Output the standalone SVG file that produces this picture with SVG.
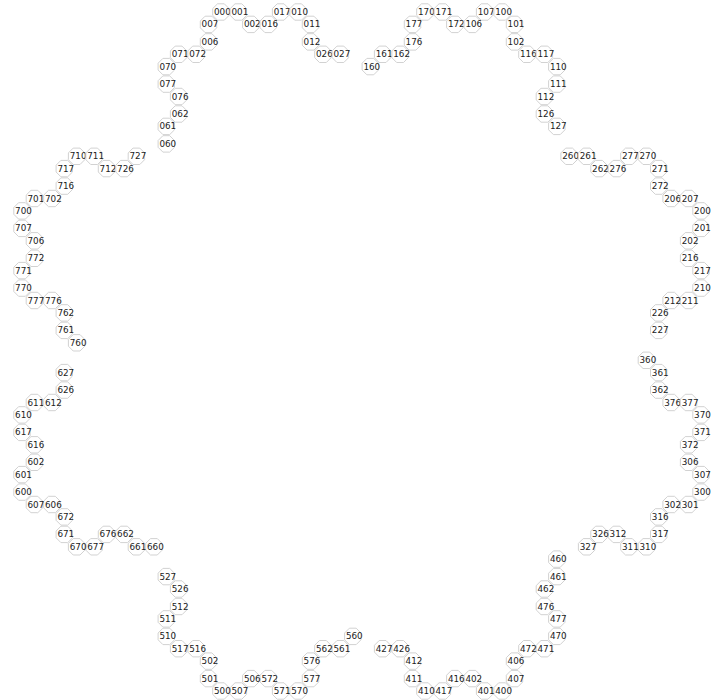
<svg xmlns="http://www.w3.org/2000/svg" xmlns:xlink="http://www.w3.org/1999/xlink" width="723" height="700" viewBox="0 0 723 700">
<style>
.n use{fill:#fff;stroke:#d2d2d2;stroke-width:1}
.n text{font-family:"DejaVu Sans",sans-serif;font-size:8.8px;fill:#222;text-anchor:middle}
</style>
<defs>
<polygon id="o" points="8.2,3.4 3.4,8.2 -3.4,8.2 -8.2,3.4 -8.2,-3.4 -3.4,-8.2 3.4,-8.2 8.2,-3.4"/>
</defs>
<rect width="723" height="700" fill="#fff"/>
<g id="connectors"></g>
<g id="nodes">
<g id="n060" class="n" transform="translate(166.3 143.9)"><use href="#o"/><text x="1.5" y="3">060</text></g>
<g id="n061" class="n" transform="translate(166.3 126.4)"><use href="#o"/><text x="1.5" y="3">061</text></g>
<g id="n062" class="n" transform="translate(178.6 114.0)"><use href="#o"/><text x="1.5" y="3">062</text></g>
<g id="n076" class="n" transform="translate(178.6 96.5)"><use href="#o"/><text x="1.5" y="3">076</text></g>
<g id="n077" class="n" transform="translate(166.3 84.1)"><use href="#o"/><text x="1.5" y="3">077</text></g>
<g id="n070" class="n" transform="translate(166.3 66.6)"><use href="#o"/><text x="1.5" y="3">070</text></g>
<g id="n071" class="n" transform="translate(178.6 54.3)"><use href="#o"/><text x="1.5" y="3">071</text></g>
<g id="n072" class="n" transform="translate(196.1 54.3)"><use href="#o"/><text x="1.5" y="3">072</text></g>
<g id="n006" class="n" transform="translate(208.5 41.9)"><use href="#o"/><text x="1.5" y="3">006</text></g>
<g id="n007" class="n" transform="translate(208.5 24.4)"><use href="#o"/><text x="1.5" y="3">007</text></g>
<g id="n000" class="n" transform="translate(220.9 12.0)"><use href="#o"/><text x="1.5" y="3">000</text></g>
<g id="n001" class="n" transform="translate(238.4 12.0)"><use href="#o"/><text x="1.5" y="3">001</text></g>
<g id="n002" class="n" transform="translate(250.8 24.4)"><use href="#o"/><text x="1.5" y="3">002</text></g>
<g id="n016" class="n" transform="translate(268.3 24.4)"><use href="#o"/><text x="1.5" y="3">016</text></g>
<g id="n017" class="n" transform="translate(280.6 12.0)"><use href="#o"/><text x="1.5" y="3">017</text></g>
<g id="n010" class="n" transform="translate(298.1 12.0)"><use href="#o"/><text x="1.5" y="3">010</text></g>
<g id="n011" class="n" transform="translate(310.5 24.4)"><use href="#o"/><text x="1.5" y="3">011</text></g>
<g id="n012" class="n" transform="translate(310.5 41.9)"><use href="#o"/><text x="1.5" y="3">012</text></g>
<g id="n026" class="n" transform="translate(322.9 54.3)"><use href="#o"/><text x="1.5" y="3">026</text></g>
<g id="n027" class="n" transform="translate(340.4 54.3)"><use href="#o"/><text x="1.5" y="3">027</text></g>

<g id="n160" class="n" transform="translate(370.3 66.6)"><use href="#o"/><text x="1.5" y="3">160</text></g>
<g id="n161" class="n" transform="translate(382.6 54.3)"><use href="#o"/><text x="1.5" y="3">161</text></g>
<g id="n162" class="n" transform="translate(400.1 54.3)"><use href="#o"/><text x="1.5" y="3">162</text></g>
<g id="n176" class="n" transform="translate(412.5 41.9)"><use href="#o"/><text x="1.5" y="3">176</text></g>
<g id="n177" class="n" transform="translate(412.5 24.4)"><use href="#o"/><text x="1.5" y="3">177</text></g>
<g id="n170" class="n" transform="translate(424.9 12.0)"><use href="#o"/><text x="1.5" y="3">170</text></g>
<g id="n171" class="n" transform="translate(442.4 12.0)"><use href="#o"/><text x="1.5" y="3">171</text></g>
<g id="n172" class="n" transform="translate(454.8 24.4)"><use href="#o"/><text x="1.5" y="3">172</text></g>
<g id="n106" class="n" transform="translate(472.3 24.4)"><use href="#o"/><text x="1.5" y="3">106</text></g>
<g id="n107" class="n" transform="translate(484.6 12.0)"><use href="#o"/><text x="1.5" y="3">107</text></g>
<g id="n100" class="n" transform="translate(502.1 12.0)"><use href="#o"/><text x="1.5" y="3">100</text></g>
<g id="n101" class="n" transform="translate(514.5 24.4)"><use href="#o"/><text x="1.5" y="3">101</text></g>
<g id="n102" class="n" transform="translate(514.5 41.9)"><use href="#o"/><text x="1.5" y="3">102</text></g>
<g id="n116" class="n" transform="translate(526.9 54.3)"><use href="#o"/><text x="1.5" y="3">116</text></g>
<g id="n117" class="n" transform="translate(544.4 54.3)"><use href="#o"/><text x="1.5" y="3">117</text></g>
<g id="n110" class="n" transform="translate(556.8 66.6)"><use href="#o"/><text x="1.5" y="3">110</text></g>
<g id="n111" class="n" transform="translate(556.8 84.1)"><use href="#o"/><text x="1.5" y="3">111</text></g>
<g id="n112" class="n" transform="translate(544.4 96.5)"><use href="#o"/><text x="1.5" y="3">112</text></g>
<g id="n126" class="n" transform="translate(544.4 114.0)"><use href="#o"/><text x="1.5" y="3">126</text></g>
<g id="n127" class="n" transform="translate(556.8 126.4)"><use href="#o"/><text x="1.5" y="3">127</text></g>

<g id="n260" class="n" transform="translate(569.1 156.3)"><use href="#o"/><text x="1.5" y="3">260</text></g>
<g id="n261" class="n" transform="translate(586.6 156.3)"><use href="#o"/><text x="1.5" y="3">261</text></g>
<g id="n262" class="n" transform="translate(599.0 168.6)"><use href="#o"/><text x="1.5" y="3">262</text></g>
<g id="n276" class="n" transform="translate(616.5 168.6)"><use href="#o"/><text x="1.5" y="3">276</text></g>
<g id="n277" class="n" transform="translate(628.9 156.3)"><use href="#o"/><text x="1.5" y="3">277</text></g>
<g id="n270" class="n" transform="translate(646.4 156.3)"><use href="#o"/><text x="1.5" y="3">270</text></g>
<g id="n271" class="n" transform="translate(658.7 168.6)"><use href="#o"/><text x="1.5" y="3">271</text></g>
<g id="n272" class="n" transform="translate(658.7 186.1)"><use href="#o"/><text x="1.5" y="3">272</text></g>
<g id="n206" class="n" transform="translate(671.1 198.5)"><use href="#o"/><text x="1.5" y="3">206</text></g>
<g id="n207" class="n" transform="translate(688.6 198.5)"><use href="#o"/><text x="1.5" y="3">207</text></g>
<g id="n200" class="n" transform="translate(701.0 210.9)"><use href="#o"/><text x="1.5" y="3">200</text></g>
<g id="n201" class="n" transform="translate(701.0 228.4)"><use href="#o"/><text x="1.5" y="3">201</text></g>
<g id="n202" class="n" transform="translate(688.6 240.8)"><use href="#o"/><text x="1.5" y="3">202</text></g>
<g id="n216" class="n" transform="translate(688.6 258.3)"><use href="#o"/><text x="1.5" y="3">216</text></g>
<g id="n217" class="n" transform="translate(701.0 270.6)"><use href="#o"/><text x="1.5" y="3">217</text></g>
<g id="n210" class="n" transform="translate(701.0 288.1)"><use href="#o"/><text x="1.5" y="3">210</text></g>
<g id="n211" class="n" transform="translate(688.6 300.5)"><use href="#o"/><text x="1.5" y="3">211</text></g>
<g id="n212" class="n" transform="translate(671.1 300.5)"><use href="#o"/><text x="1.5" y="3">212</text></g>
<g id="n226" class="n" transform="translate(658.7 312.9)"><use href="#o"/><text x="1.5" y="3">226</text></g>
<g id="n227" class="n" transform="translate(658.7 330.4)"><use href="#o"/><text x="1.5" y="3">227</text></g>

<g id="n360" class="n" transform="translate(646.4 360.3)"><use href="#o"/><text x="1.5" y="3">360</text></g>
<g id="n361" class="n" transform="translate(658.7 372.6)"><use href="#o"/><text x="1.5" y="3">361</text></g>
<g id="n362" class="n" transform="translate(658.7 390.1)"><use href="#o"/><text x="1.5" y="3">362</text></g>
<g id="n376" class="n" transform="translate(671.1 402.5)"><use href="#o"/><text x="1.5" y="3">376</text></g>
<g id="n377" class="n" transform="translate(688.6 402.5)"><use href="#o"/><text x="1.5" y="3">377</text></g>
<g id="n370" class="n" transform="translate(701.0 414.9)"><use href="#o"/><text x="1.5" y="3">370</text></g>
<g id="n371" class="n" transform="translate(701.0 432.4)"><use href="#o"/><text x="1.5" y="3">371</text></g>
<g id="n372" class="n" transform="translate(688.6 444.8)"><use href="#o"/><text x="1.5" y="3">372</text></g>
<g id="n306" class="n" transform="translate(688.6 462.3)"><use href="#o"/><text x="1.5" y="3">306</text></g>
<g id="n307" class="n" transform="translate(701.0 474.6)"><use href="#o"/><text x="1.5" y="3">307</text></g>
<g id="n300" class="n" transform="translate(701.0 492.1)"><use href="#o"/><text x="1.5" y="3">300</text></g>
<g id="n301" class="n" transform="translate(688.6 504.5)"><use href="#o"/><text x="1.5" y="3">301</text></g>
<g id="n302" class="n" transform="translate(671.1 504.5)"><use href="#o"/><text x="1.5" y="3">302</text></g>
<g id="n316" class="n" transform="translate(658.7 516.9)"><use href="#o"/><text x="1.5" y="3">316</text></g>
<g id="n317" class="n" transform="translate(658.7 534.4)"><use href="#o"/><text x="1.5" y="3">317</text></g>
<g id="n310" class="n" transform="translate(646.4 546.8)"><use href="#o"/><text x="1.5" y="3">310</text></g>
<g id="n311" class="n" transform="translate(628.9 546.8)"><use href="#o"/><text x="1.5" y="3">311</text></g>
<g id="n312" class="n" transform="translate(616.5 534.4)"><use href="#o"/><text x="1.5" y="3">312</text></g>
<g id="n326" class="n" transform="translate(599.0 534.4)"><use href="#o"/><text x="1.5" y="3">326</text></g>
<g id="n327" class="n" transform="translate(586.6 546.8)"><use href="#o"/><text x="1.5" y="3">327</text></g>

<g id="n460" class="n" transform="translate(556.8 559.1)"><use href="#o"/><text x="1.5" y="3">460</text></g>
<g id="n461" class="n" transform="translate(556.8 576.6)"><use href="#o"/><text x="1.5" y="3">461</text></g>
<g id="n462" class="n" transform="translate(544.4 589.0)"><use href="#o"/><text x="1.5" y="3">462</text></g>
<g id="n476" class="n" transform="translate(544.4 606.5)"><use href="#o"/><text x="1.5" y="3">476</text></g>
<g id="n477" class="n" transform="translate(556.8 618.9)"><use href="#o"/><text x="1.5" y="3">477</text></g>
<g id="n470" class="n" transform="translate(556.8 636.4)"><use href="#o"/><text x="1.5" y="3">470</text></g>
<g id="n471" class="n" transform="translate(544.4 648.7)"><use href="#o"/><text x="1.5" y="3">471</text></g>
<g id="n472" class="n" transform="translate(526.9 648.7)"><use href="#o"/><text x="1.5" y="3">472</text></g>
<g id="n406" class="n" transform="translate(514.5 661.1)"><use href="#o"/><text x="1.5" y="3">406</text></g>
<g id="n407" class="n" transform="translate(514.5 678.6)"><use href="#o"/><text x="1.5" y="3">407</text></g>
<g id="n400" class="n" transform="translate(502.1 691.0)"><use href="#o"/><text x="1.5" y="3">400</text></g>
<g id="n401" class="n" transform="translate(484.6 691.0)"><use href="#o"/><text x="1.5" y="3">401</text></g>
<g id="n402" class="n" transform="translate(472.3 678.6)"><use href="#o"/><text x="1.5" y="3">402</text></g>
<g id="n416" class="n" transform="translate(454.8 678.6)"><use href="#o"/><text x="1.5" y="3">416</text></g>
<g id="n417" class="n" transform="translate(442.4 691.0)"><use href="#o"/><text x="1.5" y="3">417</text></g>
<g id="n410" class="n" transform="translate(424.9 691.0)"><use href="#o"/><text x="1.5" y="3">410</text></g>
<g id="n411" class="n" transform="translate(412.5 678.6)"><use href="#o"/><text x="1.5" y="3">411</text></g>
<g id="n412" class="n" transform="translate(412.5 661.1)"><use href="#o"/><text x="1.5" y="3">412</text></g>
<g id="n426" class="n" transform="translate(400.1 648.7)"><use href="#o"/><text x="1.5" y="3">426</text></g>
<g id="n427" class="n" transform="translate(382.6 648.7)"><use href="#o"/><text x="1.5" y="3">427</text></g>

<g id="n560" class="n" transform="translate(352.8 636.4)"><use href="#o"/><text x="1.5" y="3">560</text></g>
<g id="n561" class="n" transform="translate(340.4 648.7)"><use href="#o"/><text x="1.5" y="3">561</text></g>
<g id="n562" class="n" transform="translate(322.9 648.7)"><use href="#o"/><text x="1.5" y="3">562</text></g>
<g id="n576" class="n" transform="translate(310.5 661.1)"><use href="#o"/><text x="1.5" y="3">576</text></g>
<g id="n577" class="n" transform="translate(310.5 678.6)"><use href="#o"/><text x="1.5" y="3">577</text></g>
<g id="n570" class="n" transform="translate(298.1 691.0)"><use href="#o"/><text x="1.5" y="3">570</text></g>
<g id="n571" class="n" transform="translate(280.6 691.0)"><use href="#o"/><text x="1.5" y="3">571</text></g>
<g id="n572" class="n" transform="translate(268.3 678.6)"><use href="#o"/><text x="1.5" y="3">572</text></g>
<g id="n506" class="n" transform="translate(250.8 678.6)"><use href="#o"/><text x="1.5" y="3">506</text></g>
<g id="n507" class="n" transform="translate(238.4 691.0)"><use href="#o"/><text x="1.5" y="3">507</text></g>
<g id="n500" class="n" transform="translate(220.9 691.0)"><use href="#o"/><text x="1.5" y="3">500</text></g>
<g id="n501" class="n" transform="translate(208.5 678.6)"><use href="#o"/><text x="1.5" y="3">501</text></g>
<g id="n502" class="n" transform="translate(208.5 661.1)"><use href="#o"/><text x="1.5" y="3">502</text></g>
<g id="n516" class="n" transform="translate(196.1 648.7)"><use href="#o"/><text x="1.5" y="3">516</text></g>
<g id="n517" class="n" transform="translate(178.6 648.7)"><use href="#o"/><text x="1.5" y="3">517</text></g>
<g id="n510" class="n" transform="translate(166.3 636.4)"><use href="#o"/><text x="1.5" y="3">510</text></g>
<g id="n511" class="n" transform="translate(166.3 618.9)"><use href="#o"/><text x="1.5" y="3">511</text></g>
<g id="n512" class="n" transform="translate(178.6 606.5)"><use href="#o"/><text x="1.5" y="3">512</text></g>
<g id="n526" class="n" transform="translate(178.6 589.0)"><use href="#o"/><text x="1.5" y="3">526</text></g>
<g id="n527" class="n" transform="translate(166.3 576.6)"><use href="#o"/><text x="1.5" y="3">527</text></g>

<g id="n660" class="n" transform="translate(153.9 546.8)"><use href="#o"/><text x="1.5" y="3">660</text></g>
<g id="n661" class="n" transform="translate(136.4 546.8)"><use href="#o"/><text x="1.5" y="3">661</text></g>
<g id="n662" class="n" transform="translate(124.0 534.4)"><use href="#o"/><text x="1.5" y="3">662</text></g>
<g id="n676" class="n" transform="translate(106.5 534.4)"><use href="#o"/><text x="1.5" y="3">676</text></g>
<g id="n677" class="n" transform="translate(94.1 546.8)"><use href="#o"/><text x="1.5" y="3">677</text></g>
<g id="n670" class="n" transform="translate(76.6 546.8)"><use href="#o"/><text x="1.5" y="3">670</text></g>
<g id="n671" class="n" transform="translate(64.3 534.4)"><use href="#o"/><text x="1.5" y="3">671</text></g>
<g id="n672" class="n" transform="translate(64.3 516.9)"><use href="#o"/><text x="1.5" y="3">672</text></g>
<g id="n606" class="n" transform="translate(51.9 504.5)"><use href="#o"/><text x="1.5" y="3">606</text></g>
<g id="n607" class="n" transform="translate(34.4 504.5)"><use href="#o"/><text x="1.5" y="3">607</text></g>
<g id="n600" class="n" transform="translate(22.0 492.1)"><use href="#o"/><text x="1.5" y="3">600</text></g>
<g id="n601" class="n" transform="translate(22.0 474.6)"><use href="#o"/><text x="1.5" y="3">601</text></g>
<g id="n602" class="n" transform="translate(34.4 462.3)"><use href="#o"/><text x="1.5" y="3">602</text></g>
<g id="n616" class="n" transform="translate(34.4 444.8)"><use href="#o"/><text x="1.5" y="3">616</text></g>
<g id="n617" class="n" transform="translate(22.0 432.4)"><use href="#o"/><text x="1.5" y="3">617</text></g>
<g id="n610" class="n" transform="translate(22.0 414.9)"><use href="#o"/><text x="1.5" y="3">610</text></g>
<g id="n611" class="n" transform="translate(34.4 402.5)"><use href="#o"/><text x="1.5" y="3">611</text></g>
<g id="n612" class="n" transform="translate(51.9 402.5)"><use href="#o"/><text x="1.5" y="3">612</text></g>
<g id="n626" class="n" transform="translate(64.3 390.1)"><use href="#o"/><text x="1.5" y="3">626</text></g>
<g id="n627" class="n" transform="translate(64.3 372.6)"><use href="#o"/><text x="1.5" y="3">627</text></g>

<g id="n760" class="n" transform="translate(76.6 342.8)"><use href="#o"/><text x="1.5" y="3">760</text></g>
<g id="n761" class="n" transform="translate(64.3 330.4)"><use href="#o"/><text x="1.5" y="3">761</text></g>
<g id="n762" class="n" transform="translate(64.3 312.9)"><use href="#o"/><text x="1.5" y="3">762</text></g>
<g id="n776" class="n" transform="translate(51.9 300.5)"><use href="#o"/><text x="1.5" y="3">776</text></g>
<g id="n777" class="n" transform="translate(34.4 300.5)"><use href="#o"/><text x="1.5" y="3">777</text></g>
<g id="n770" class="n" transform="translate(22.0 288.1)"><use href="#o"/><text x="1.5" y="3">770</text></g>
<g id="n771" class="n" transform="translate(22.0 270.6)"><use href="#o"/><text x="1.5" y="3">771</text></g>
<g id="n772" class="n" transform="translate(34.4 258.3)"><use href="#o"/><text x="1.5" y="3">772</text></g>
<g id="n706" class="n" transform="translate(34.4 240.8)"><use href="#o"/><text x="1.5" y="3">706</text></g>
<g id="n707" class="n" transform="translate(22.0 228.4)"><use href="#o"/><text x="1.5" y="3">707</text></g>
<g id="n700" class="n" transform="translate(22.0 210.9)"><use href="#o"/><text x="1.5" y="3">700</text></g>
<g id="n701" class="n" transform="translate(34.4 198.5)"><use href="#o"/><text x="1.5" y="3">701</text></g>
<g id="n702" class="n" transform="translate(51.9 198.5)"><use href="#o"/><text x="1.5" y="3">702</text></g>
<g id="n716" class="n" transform="translate(64.3 186.1)"><use href="#o"/><text x="1.5" y="3">716</text></g>
<g id="n717" class="n" transform="translate(64.3 168.6)"><use href="#o"/><text x="1.5" y="3">717</text></g>
<g id="n710" class="n" transform="translate(76.6 156.3)"><use href="#o"/><text x="1.5" y="3">710</text></g>
<g id="n711" class="n" transform="translate(94.1 156.3)"><use href="#o"/><text x="1.5" y="3">711</text></g>
<g id="n712" class="n" transform="translate(106.5 168.6)"><use href="#o"/><text x="1.5" y="3">712</text></g>
<g id="n726" class="n" transform="translate(124.0 168.6)"><use href="#o"/><text x="1.5" y="3">726</text></g>
<g id="n727" class="n" transform="translate(136.4 156.3)"><use href="#o"/><text x="1.5" y="3">727</text></g>
</g>
</svg>
